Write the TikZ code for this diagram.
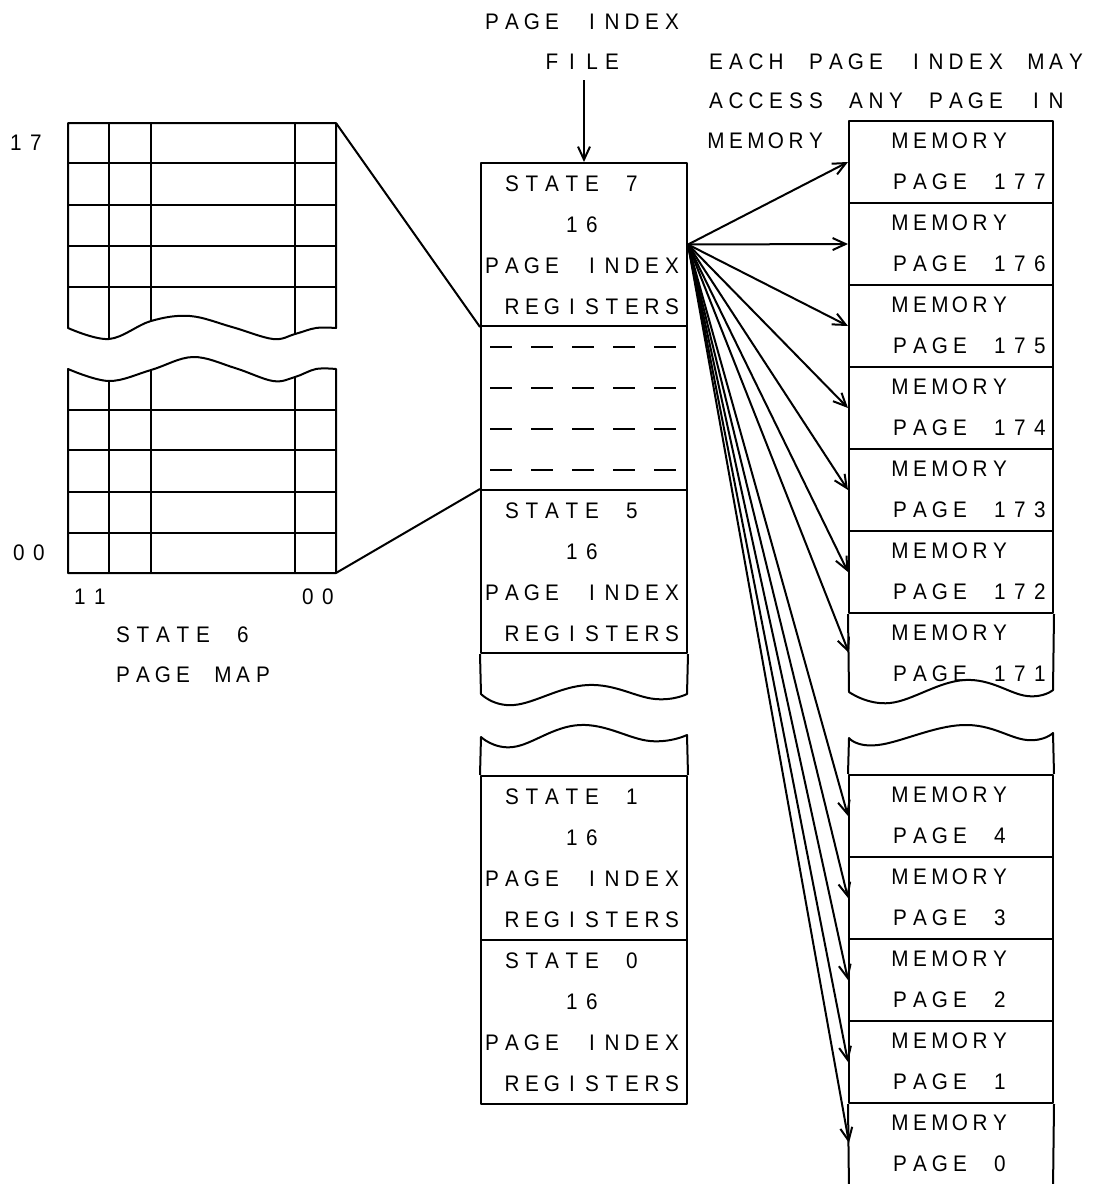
\documentclass[tikz,border=0pt]{standalone}
\usepackage{fontspec}
\setmainfont{Liberation Sans}[FakeStretch=0.92]
\usetikzlibrary{arrows.meta}
\newlength\plw
\setlength\plw{20pt}
\def\plEnd{\plEnd}
\newcommand\pl[1]{\plA#1\plEnd}
\def\plA#1{\ifx\plEnd#1\else\makebox[\plw][c]{#1}\expandafter\plA\fi}
\begin{document}
\begin{tikzpicture}[x=1pt,y=-1pt,line width=2pt,line join=round,
  txt/.style={anchor=west,inner sep=0pt,font=\fontsize{22.5}{22.5}\selectfont},
  blk/.style={draw,rectangle,inner sep=0pt,minimum width=206pt,minimum height=#1},
  mbox/.style={draw,rectangle,inner sep=0pt,minimum width=204pt,minimum height=82pt},
  arr/.style={-{Straight Barb[length=13pt,width=12pt]}},
  dashrow/.style={dash pattern=on 22pt off 19pt}]
\useasboundingbox (0,0) rectangle (1097,1184);

% ---------------- left page map ----------------
\begin{scope}
\clip (68,123) -- (336,123) -- (336,328) -- plot[smooth,tension=.6] coordinates {(336,328) (316,328) (295,334) (273,339) (232,327) (190,316) (151,321) (109,339) (68,328)} -- cycle;
\foreach \yy in {163,205,246,287} \draw (60,\yy) -- (345,\yy);
\foreach \xx in {109,151,295} \draw (\xx,115) -- (\xx,345);
\end{scope}
\draw (68,123) -- (336,123) -- (336,328) -- plot[smooth,tension=.6] coordinates {(336,328) (316,328) (295,334) (273,339) (232,327) (190,316) (151,321) (109,339) (68,328)} -- cycle;

\begin{scope}
\clip plot[smooth,tension=.6] coordinates {(68,369) (109,381) (151,370) (193,357) (235,368) (273,381) (295,377) (316,369) (336,369)} -- (336,573) -- (68,573) -- cycle;
\foreach \yy in {410,450,492,533} \draw (60,\yy) -- (345,\yy);
\foreach \xx in {109,151,295} \draw (\xx,350) -- (\xx,580);
\end{scope}
\draw plot[smooth,tension=.6] coordinates {(68,369) (109,381) (151,370) (193,357) (235,368) (273,381) (295,377) (316,369) (336,369)} -- (336,573) -- (68,573) -- cycle;

\coordinate (mapTR) at (336,123);
\coordinate (mapBR) at (336,573);

\node[txt] (l17) at (5,143) {\pl{17}};
\node[txt] (l00a) at (8,553) {\pl{00}};
\node[txt] (l11) at (69,597) {\pl{11}};
\node[txt] (l00b) at (297,597) {\pl{00}};
\node[txt] (lst6) at (112,635) {\pl{STATE~6}};
\node[txt] (lpm) at (112,675) {\pl{PAGE~MAP}};

% ---------------- middle: page index file ----------------
\node[txt] (tpi) at (481,22) {\pl{PAGE~INDEX}};
\node[txt] (tfile) at (481,62) {\pl{~~~FILE}};

\node[blk=163pt] (s7) at (584,244.5) {};
\node[blk=164pt] (gap) at (584,408) {};
\node[blk=163pt] (s5) at (584,571.5) {};
\node[blk=164pt] (s1) at (584,858) {};
\node[blk=164pt] (s0) at (584,1022) {};

\coordinate (fileArr) at (584,80);
\draw[arr] (fileArr) -- (s7.north);

\foreach \yy in {347,388,429,470} \draw[dashrow] (490,\yy) -- (677,\yy);

\draw (s5.south east) -- plot[smooth,tension=.7] coordinates {(687,694) (655,699) (588,685) (514,705) (481,694)} -- (s5.south west);
\draw (s1.north west) -- plot[smooth,tension=.7] coordinates {(481,737) (513,747) (580,725) (650,741) (687,735)} -- (s1.north east);

\foreach \T/\n/\nm in {163/7/a,490/5/b,776/1/c,940/0/d}{
  \node[txt] (st\nm) at (481,\T+21) {\pl{~STATE~}\expandafter\pl\expandafter{\n}};
  \node[txt] (sx\nm) at (481,\T+62) {\pl{~~~~16}};
  \node[txt] (sp\nm) at (481,\T+103) {\pl{PAGE~INDEX}};
  \node[txt] (sr\nm) at (481,\T+144) {\pl{~REGISTERS}};
}

\draw (mapTR) -- (s7.south west);
\draw (mapBR) -- (s5.north west);

% ---------------- memory pages ----------------
\node[txt] (te1) at (705,62) {\pl{EACH~PAGE~INDEX~MAY}};
\node[txt] (te2) at (705,101) {\pl{ACCESS~ANY~PAGE~IN}};
\node[txt] (te3) at (705,141) {\pl{MEMORY}};

\foreach \T/\n in {121/177,203/176,285/175,367/174,449/173,531/172}{
  \node[mbox] (p\n) at (951,\T+41) {};
}
\foreach \T/\n in {775/4,857/3,939/2,1021/1}{
  \node[mbox] (p\n) at (951,\T+41) {};
}
\draw (p172.south east) -- plot[smooth,tension=.7] coordinates {(1053,690) (1027,696) (965,680) (890,703) (849,692)} -- (p172.south west);
\draw (p4.north west) -- plot[smooth,tension=.7] coordinates {(849,738) (878,745) (963,725) (1027,740) (1053,733)} -- (p4.north east);
\draw (p1.south west) -- (849,1190);
\draw (p1.south east) -- (1053,1190);

\foreach \T/\n in {121/177,203/176,285/175,367/174,449/173,531/172,613/171,775/4,857/3,939/2,1021/1,1103/0}{
  \node[txt] (mm\n) at (889,\T+20) {\pl{MEMORY}};
  \node[txt] (mp\n) at (889,\T+61) {\pl{PAGE~}\expandafter\pl\expandafter{\n}};
}

\coordinate (p171w) at (849,653);
\coordinate (p0w) at (849,1143);

\foreach \t in {p177.west,p176.west,p175.west,p174.west,p173.west,p172.west,p171w,p4.west,p3.west,p2.west,p1.west,p0w}
  \draw[arr] (s7.east) -- (\t);
\end{tikzpicture}
\end{document}
